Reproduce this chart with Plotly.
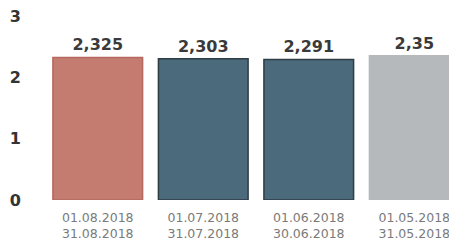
import plotly.graph_objects as go

periods = ["01.08.2018<br>31.08.2018", "01.07.2018<br>31.07.2018",
           "01.06.2018<br>30.06.2018", "01.05.2018<br>31.05.2018"]
values = [2.325, 2.303, 2.291, 2.35]
bar_colors = ["#C47C70", "#4B6A7B", "#4B6A7B", "#B5B9BC"]
line_colors = ["#B4685E", "#2F3D45", "#2F3D45", "#B5B9BC"]

labels = [str(v).replace(".", ",") for v in values]

fig = go.Figure(go.Bar(
    x=periods, y=values,
    marker=dict(color=bar_colors, line=dict(color=line_colors, width=1.5)),
    width=0.85,
    text=labels, textposition="outside", cliponaxis=False,
    textfont=dict(family="DejaVu Sans", size=16, color="#3A3A3A", weight="bold"),
))

fig.update_layout(
    width=457, height=241,
    margin=dict(l=37, r=8, t=8, b=49),
    paper_bgcolor="white", plot_bgcolor="white",
    showlegend=False,
    bargap=0.15,
    font=dict(family="DejaVu Sans"),
    xaxis=dict(range=[-0.5, 3.405], showgrid=False, zeroline=False, showline=False,
               ticks="", automargin=False, ticklabelstandoff=8,
               ticklabeloverflow="allow",
               tickfont=dict(size=12.5, color="#7A7A7A")),
    yaxis=dict(range=[0, 3], tickvals=[0, 1, 2, 3], showgrid=False, zeroline=False,
               showline=False, ticks="", ticklabelstandoff=23, automargin=False,
               ticklabeloverflow="allow",
               tickfont=dict(family="DejaVu Sans", size=16, color="#333333", weight="bold")),
)

fig.write_html("out.html")
